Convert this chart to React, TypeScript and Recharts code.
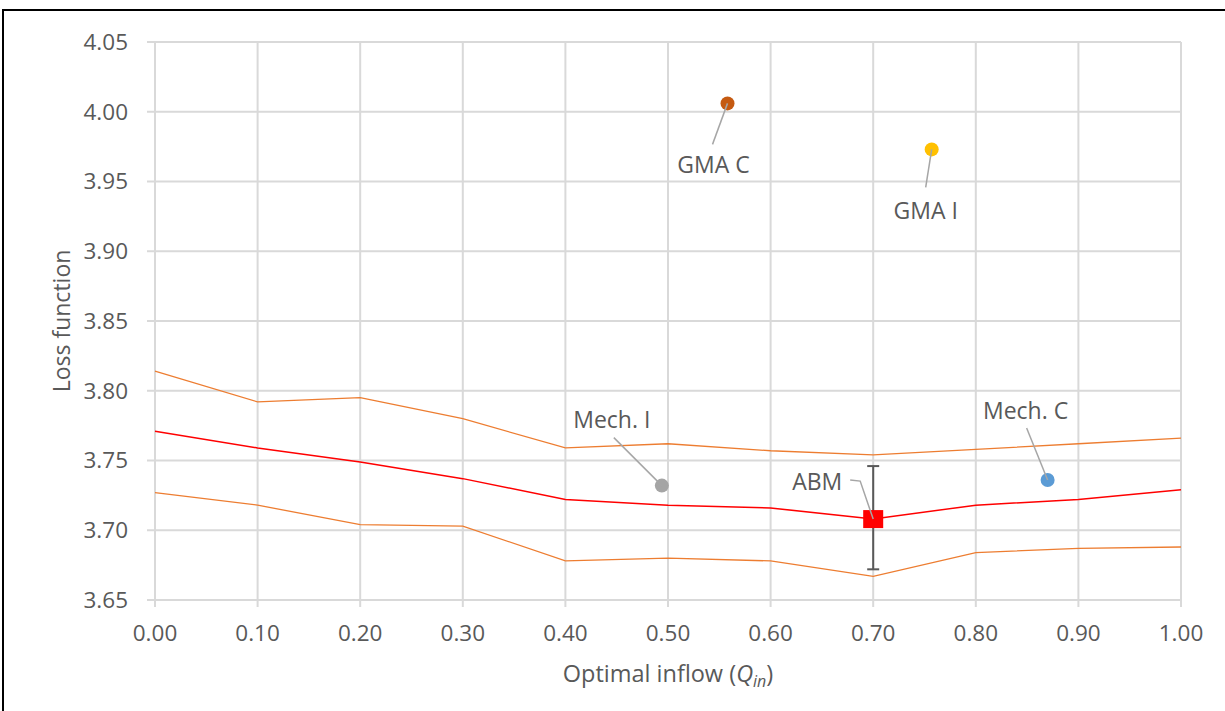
import React from 'react';
import {
  ComposedChart,
  Line,
  Scatter,
  ErrorBar,
  XAxis,
  YAxis,
  CartesianGrid,
  Label,
} from 'recharts';

// inflow grid and the loss band around the ABM mean
const qValues = [0, 0.1, 0.2, 0.3, 0.4, 0.5, 0.6, 0.7, 0.8, 0.9, 1.0];
const upperBand = [3.814, 3.792, 3.795, 3.780, 3.759, 3.762, 3.757, 3.754, 3.758, 3.762, 3.766];
const meanLoss = [3.771, 3.759, 3.749, 3.737, 3.722, 3.718, 3.716, 3.708, 3.718, 3.722, 3.729];
const lowerBand = [3.727, 3.718, 3.704, 3.703, 3.678, 3.680, 3.678, 3.667, 3.684, 3.687, 3.688];

// competing models
const modelNames = ['GMA C', 'GMA I', 'Mech. I', 'Mech. C'];
const modelQ = [0.558, 0.757, 0.494, 0.870];
const modelLoss = [4.006, 3.973, 3.732, 3.736];
const modelColors = ['#c55a11', '#ffc000', '#a5a5a5', '#5b9bd5'];

// ABM optimum with its spread
const abmName = 'ABM';
const abmQ = 0.7;
const abmLoss = 3.708;
const abmErrLow = 0.036;
const abmErrHigh = 0.038;

const xTicks = [0, 0.1, 0.2, 0.3, 0.4, 0.5, 0.6, 0.7, 0.8, 0.9, 1.0];
const yTicks = [3.65, 3.7, 3.75, 3.8, 3.85, 3.9, 3.95, 4.0, 4.05];

const bandRows = qValues.map((q, i) => ({
  q,
  upper: upperBand[i],
  mean: meanLoss[i],
  lower: lowerBand[i],
}));

const modelRows = modelNames.map((name, i) => ({
  name,
  q: modelQ[i],
  loss: modelLoss[i],
  color: modelColors[i],
}));

const abmRows = [{ name: abmName, q: abmQ, loss: abmLoss, err: [abmErrLow, abmErrHigh] }];

const FONT = '"Open Sans", sans-serif';
const TEXT = '#595959';
const GRID = '#d9d9d9';
const LEADER = '#a6a6a6';

// where each callout text sits and how its leader line bends (pixels from the mark)
const callouts: Record<string, { text: [number, number]; lead: [number, number][] }> = {
  'GMA C': { text: [-14, 61], lead: [[-15, 41]] },
  'GMA I': { text: [-6, 61], lead: [[-6, 38]] },
  'Mech. I': { text: [-50, -66], lead: [[-48, -48]] },
  'Mech. C': { text: [-22, -69], lead: [[-21, -52]] },
  ABM: { text: [-56, -37], lead: [[-23, -39], [-13, -38]] },
};

const CalloutText = ({ cx, cy, name }: { cx: number; cy: number; name: string }) => {
  const c = callouts[name];
  const pts = [...c.lead.map(([dx, dy]) => `${cx + dx},${cy + dy}`), `${cx},${cy}`].join(' ');
  return (
    <g>
      <polyline points={pts} fill="none" stroke={LEADER} strokeWidth={1.5} />
      <text
        x={cx + c.text[0]}
        y={cy + c.text[1]}
        dy="0.36em"
        textAnchor="middle"
        fontFamily={FONT}
        fontSize={23}
        fill={TEXT}
      >
        {name}
      </text>
    </g>
  );
};

const ModelDot = (props: any) => {
  const { cx, cy, payload } = props;
  return (
    <g>
      <circle cx={cx} cy={cy} r={7} fill={payload.color} />
      <CalloutText cx={cx} cy={cy} name={payload.name} />
    </g>
  );
};

const AbmSquare = (props: any) => {
  const { cx, cy, payload } = props;
  return (
    <g>
      <rect x={cx - 10} y={cy - 9} width={20} height={18} fill="#ff0000" />
      <CalloutText cx={cx} cy={cy} name={payload.name} />
    </g>
  );
};

const tickStyle = { fontFamily: FONT, fontSize: 22.5, fill: TEXT };

export default function App() {
  return (
    <div
      style={{
        position: 'absolute',
        left: 0,
        top: 0,
        width: 1225,
        height: 711,
        overflow: 'hidden',
        background: '#fff',
      }}
    >
      <div
        style={{
          position: 'absolute',
          left: 2,
          top: 9,
          width: 1300,
          height: 800,
          border: '2px solid #000',
        }}
      />
      <ComposedChart
        width={1225}
        height={711}
        data={bandRows}
        margin={{ top: 42, right: 44, bottom: 51, left: 0 }}
        style={{ position: 'absolute', left: 0, top: 0 }}
      >
        <CartesianGrid stroke={GRID} strokeWidth={2} />
        <XAxis
          dataKey="q"
          type="number"
          domain={[0, 1]}
          ticks={xTicks}
          interval={0}
          tickFormatter={(v: number) => v.toFixed(2)}
          axisLine={{ stroke: GRID, strokeWidth: 2 }}
          tickLine={{ stroke: GRID, strokeWidth: 2 }}
          tickSize={7}
          tickMargin={18}
          height={60}
          tick={tickStyle}
        >
          <Label
            content={(p: any) => {
              const vb = p.viewBox;
              return (
                <text
                  x={vb.x + vb.width / 2}
                  y={vb.y + 82}
                  textAnchor="middle"
                  fontFamily={FONT}
                  fontSize={23.5}
                  fill={TEXT}
                >
                  Optimal inflow (<tspan fontStyle="italic">Q</tspan>
                  <tspan fontStyle="italic" fontSize={16} dy={5}>in</tspan>
                  <tspan dy={-5}>)</tspan>
                </text>
              );
            }}
          />
        </XAxis>
        <YAxis
          type="number"
          domain={[3.65, 4.05]}
          ticks={yTicks}
          interval={0}
          tickFormatter={(v: number) => v.toFixed(2)}
          axisLine={false}
          tickLine={{ stroke: GRID, strokeWidth: 2 }}
          tickSize={8}
          tickMargin={19}
          width={155}
          tick={tickStyle}
        >
          <Label
            content={(p: any) => {
              const vb = p.viewBox;
              const cy = vb.y + vb.height / 2;
              return (
                <text
                  x={62}
                  y={cy}
                  dy="0.36em"
                  textAnchor="middle"
                  transform={`rotate(-90, 62, ${cy})`}
                  fontFamily={FONT}
                  fontSize={23}
                  fill={TEXT}
                >
                  Loss function
                </text>
              );
            }}
          />
        </YAxis>
        <Line dataKey="upper" type="linear" stroke="#ed7d31" strokeWidth={1.3} dot={false} isAnimationActive={false} />
        <Line dataKey="lower" type="linear" stroke="#ed7d31" strokeWidth={1.3} dot={false} isAnimationActive={false} />
        <Line dataKey="mean" type="linear" stroke="#ff0000" strokeWidth={1.5} dot={false} isAnimationActive={false} />
        <Scatter data={modelRows} dataKey="loss" shape={ModelDot} isAnimationActive={false} />
        <Scatter data={abmRows} dataKey="loss" shape={AbmSquare} isAnimationActive={false}>
          <ErrorBar dataKey="err" direction="y" width={6} stroke="#595959" strokeWidth={2} isAnimationActive={false} />
        </Scatter>
      </ComposedChart>
    </div>
  );
}
